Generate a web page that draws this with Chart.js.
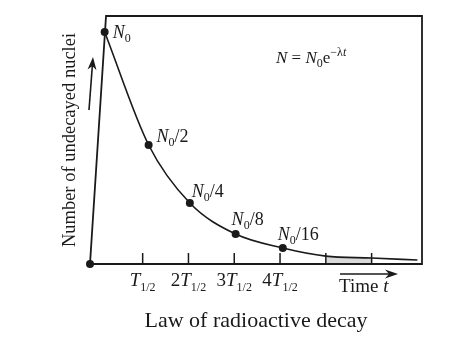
<!DOCTYPE html>
<html>
<head>
<meta charset="utf-8">
<script src="https://cdn.jsdelivr.net/npm/chart.js@4/dist/chart.umd.min.js"></script>
<style>
    html, body { margin: 0; padding: 0; background: #fff; }
    #wrap { width: 474px; height: 354px; }
</style>
</head>
<body>
<div id="wrap"><canvas id="myChart" width="474" height="354"></canvas></div>
<script>
// time in half-lives, N in units of N0
var pointT = [0.17, 1.13, 2.03, 3.03, 4.06];
var pointN = [1, 0.513, 0.263, 0.129, 0.069];
var pointLabels = ['', '/2', '/4', '/8', '/16'];   // printed after "N0"
var tailT = [5, 6, 7];
var tailN = [0.034, 0.026, 0.017];
var shadeT = [5, 6];
var shadeN = [0.034, 0.026];
var tickT = [1, 2, 3, 4, 5, 6];
var tickCoef = ['', '2', '3', '4', null, null];   // null = tick without label
var frameT = [-0.15, 0.2, 7.1, 7.1, -0.15];
var frameN = [0, 1.069, 1.069, 0, 0];

var SERIF = "'Liberation Serif', 'DejaVu Serif', serif";
var INK = '#1a1a1a';

function toXY(xs, ys) {
    var out = [];
    for (var i = 0; i < xs.length; i++) {
        out.push({x: xs[i], y: ys[i]});
    }
    return out;
}

// parts: [text, size, italic, dy]
function richWidth(ctx, parts) {
    var w = 0;
    parts.forEach(function (p) {
        ctx.font = (p[2] ? 'italic ' : '') + p[1] + 'px ' + SERIF;
        w += ctx.measureText(p[0]).width;
    });
    return w;
}

function drawRich(ctx, parts, x, y) {
    parts.forEach(function (p) {
        ctx.font = (p[2] ? 'italic ' : '') + p[1] + 'px ' + SERIF;
        ctx.fillText(p[0], x, y + (p[3] || 0));
        x += ctx.measureText(p[0]).width;
    });
}

function arrow(ctx, x1, y1, x2, y2) {
    var a = Math.atan2(y2 - y1, x2 - x1);
    ctx.beginPath();
    ctx.moveTo(x1, y1);
    ctx.lineTo(x2 - 8 * Math.cos(a), y2 - 8 * Math.sin(a));
    ctx.stroke();
    ctx.beginPath();
    ctx.moveTo(x2, y2);
    ctx.lineTo(x2 - 13 * Math.cos(a) + 4.5 * Math.sin(a), y2 - 13 * Math.sin(a) - 4.5 * Math.cos(a));
    ctx.lineTo(x2 - 9 * Math.cos(a), y2 - 9 * Math.sin(a));
    ctx.lineTo(x2 - 13 * Math.cos(a) - 4.5 * Math.sin(a), y2 - 13 * Math.sin(a) + 4.5 * Math.cos(a));
    ctx.closePath();
    ctx.fill();
}

var labelOffsets = [[8, 6], [8, -3], [2, -6], [-4, -9], [-5, -8]];

var decorations = {
    id: 'decorations',
    afterDraw: function (chart) {
        var ctx = chart.ctx;
        var xs = chart.scales.x, ys = chart.scales.y;
        var y0 = ys.getPixelForValue(0);
        ctx.save();
        ctx.fillStyle = INK;
        ctx.strokeStyle = INK;
        ctx.textBaseline = 'alphabetic';

        // tick marks and T1/2 labels
        ctx.lineWidth = 1.5;
        tickT.forEach(function (t, i) {
            var px = xs.getPixelForValue(t);
            ctx.beginPath();
            ctx.moveTo(px, y0);
            ctx.lineTo(px, y0 - 11);
            ctx.stroke();
            if (tickCoef[i] === null) return;
            var parts = [[tickCoef[i], 19, false, 0], ['T', 19, true, 0], ['1/2', 12, false, 5]];
            drawRich(ctx, parts, px - richWidth(ctx, parts) / 2, 286);
        });

        // point labels N0, N0/2 ...
        pointT.forEach(function (t, i) {
            var px = xs.getPixelForValue(t) + labelOffsets[i][0];
            var py = ys.getPixelForValue(pointN[i]) + labelOffsets[i][1];
            drawRich(ctx, [['N', 18, true, 0], ['0', 12, false, 4], [pointLabels[i], 18, false, 0]], px, py);
        });

        // formula
        drawRich(ctx, [['N', 17, true, 0], [' = ', 17, false, 0], ['N', 17, true, 0], ['0', 12, false, 4],
            ['e', 17, false, 0], ['\u2212\u03bb', 12, false, -7], ['t', 12, true, -7]], 276, 63);

        // x axis caption with arrow
        drawRich(ctx, [['Time ', 19, false, 0], ['t', 19, true, 0]], 339, 292);
        ctx.lineWidth = 1.6;
        arrow(ctx, 340, 274, 398, 274);

        // y axis caption with arrow
        ctx.save();
        ctx.translate(75, 140);
        ctx.rotate(-Math.PI / 2);
        ctx.font = '18.5px ' + SERIF;
        ctx.textAlign = 'center';
        ctx.fillText('Number of undecayed nuclei', 0, 0);
        ctx.restore();
        arrow(ctx, 89, 110, 93, 57);

        // caption
        ctx.font = '22px ' + SERIF;
        ctx.textAlign = 'center';
        ctx.fillText('Law of radioactive decay', 256, 327);
        ctx.restore();
    }
};

var ctx = document.getElementById('myChart');
var myChart = new Chart(ctx, {
    type: 'line',
    data: {
        datasets: [{
            label: 'decay',
            data: toXY(pointT.concat(tailT), pointN.concat(tailN)),
            borderColor: INK,
            borderWidth: 1.6,
            pointRadius: [4, 4, 4, 4, 4, 0, 0, 0],
            pointBackgroundColor: INK,
            pointBorderWidth: 0,
            cubicInterpolationMode: 'monotone',
            fill: false,
            clip: false,
            order: 1
        }, {
            label: 'frame',
            data: toXY(frameT, frameN),
            borderColor: INK,
            borderWidth: 1.8,
            tension: 0,
            pointRadius: [4, 0, 0, 0, 0],
            pointBackgroundColor: INK,
            pointBorderWidth: 0,
            fill: false,
            clip: false,
            order: 2
        }, {
            label: 'shade',
            data: toXY(shadeT, shadeN),
            borderWidth: 0,
            pointRadius: 0,
            backgroundColor: '#d9d9d9',
            fill: 'origin',
            order: 3
        }]
    },
    options: {
        responsive: false,
        animation: false,
        layout: {padding: {left: 90, right: 52, top: 16, bottom: 90}},
        plugins: {legend: {display: false}, tooltip: {enabled: false}},
        scales: {
            x: {type: 'linear', min: -0.15, max: 7.1, display: false},
            y: {type: 'linear', min: 0, max: 1.069, display: false}
        }
    },
    plugins: [decorations]
});
</script>
</body>
</html>
